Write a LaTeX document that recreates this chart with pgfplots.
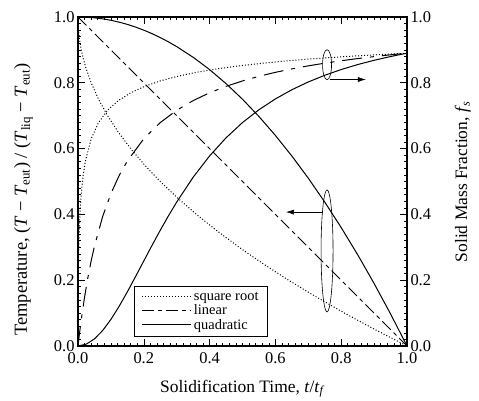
\documentclass[border=0pt]{standalone}
\usepackage{fontspec}
\setmainfont{Liberation Serif}
\usepackage{pgfplots}
\pgfplotsset{compat=1.18}
\usepackage{pgfplotstable}
\usetikzlibrary{arrows.meta}

% square-root law: t, T, fs
\pgfplotstableread{
t T fs
0 1 0
0.0001 0.99 0.0807
0.0004 0.98 0.149
0.0009 0.97 0.2077
0.0016 0.96 0.2586
0.0025 0.95 0.3032
0.005625 0.925 0.3938
0.01 0.9 0.4631
0.015625 0.875 0.5179
0.0225 0.85 0.5623
0.04 0.8 0.6299
0.0625 0.75 0.6791
0.09 0.7 0.7165
0.1225 0.65 0.7459
0.16 0.6 0.7696
0.2025 0.55 0.7892
0.25 0.5 0.8057
0.3025 0.45 0.8197
0.36 0.4 0.8318
0.4225 0.35 0.8423
0.49 0.3 0.8515
0.5625 0.25 0.8597
0.64 0.2 0.8671
0.7225 0.15 0.8736
0.81 0.1 0.8796
0.9025 0.05 0.8850
1 0 0.8899
}\sqrtdata

% linear law
\pgfplotstableread{
t T fs
0 1 0
0.005 0.995 0.0421
0.01 0.99 0.0807
0.02 0.98 0.149
0.03 0.97 0.2077
0.04 0.96 0.2586
0.05 0.95 0.3032
0.075 0.925 0.3938
0.1 0.9 0.4631
0.125 0.875 0.5179
0.15 0.85 0.5623
0.2 0.8 0.6299
0.25 0.75 0.6791
0.3 0.7 0.7165
0.35 0.65 0.7459
0.4 0.6 0.7696
0.45 0.55 0.7892
0.5 0.5 0.8057
0.55 0.45 0.8197
0.6 0.4 0.8318
0.65 0.35 0.8423
0.7 0.3 0.8515
0.75 0.25 0.8597
0.8 0.2 0.8671
0.85 0.15 0.8736
0.9 0.1 0.8796
0.95 0.05 0.8850
1 0 0.8899
}\lindata

% quadratic law
\pgfplotstableread{
t T fs
0 1 0
0.025 0.999375 0.0055
0.05 0.9975 0.0215
0.075 0.994375 0.0471
0.1 0.99 0.0807
0.125 0.984375 0.1205
0.15 0.9775 0.1646
0.175 0.969375 0.2111
0.2 0.96 0.2586
0.225 0.949375 0.3058
0.25 0.9375 0.3518
0.275 0.924375 0.3958
0.3 0.91 0.4375
0.35 0.8775 0.5129
0.4 0.84 0.5778
0.45 0.7975 0.6328
0.5 0.75 0.6791
0.55 0.6975 0.7181
0.6 0.64 0.7510
0.65 0.5775 0.7789
0.7 0.51 0.8026
0.75 0.4375 0.8228
0.8 0.36 0.8403
0.85 0.2775 0.8554
0.9 0.19 0.8684
0.95 0.0975 0.8798
1 0 0.8899
}\quaddata

\begin{document}
\begin{tikzpicture}
\pgfplotsset{
  common/.style={
    width=329bp, height=329bp, scale only axis,
    xmin=0, xmax=1, ymin=0, ymax=1,
    xtick={0,0.2,0.4,0.6,0.8,1},
    ytick={0,0.2,0.4,0.6,0.8,1},
    minor tick num=9,
    tick align=inside,
    major tick length=7pt, minor tick length=3.5pt,
    tick style={line width=0.6pt, black},
    axis line style={line width=1.1pt},
    tick label style={font=\fontsize{16.5}{18}\selectfont},
    xticklabel style={yshift=-3bp},
    label style={font=\fontsize{17.5}{20}\selectfont},
    /pgf/number format/.cd, fixed, fixed zerofill, precision=1, assume math mode=true,
  },
  sq/.style={line width=1pt, dotted},
  ln/.style={line width=1pt, dash pattern=on 20pt off 8pt on 4pt off 8pt},
  qd/.style={line width=1pt},
}
\begin{axis}[common,
  yticklabel pos=left,
  xlabel={Solidification Time, \textit{t}/\textit{t}\textsubscript{\textit{f}}},
  xlabel style={at={(axis description cs:0.5,0)}, anchor=base, yshift=-46bp},
  ylabel={Temperature, (\textit{T} − \textit{T}\textsubscript{eut}) / (\textit{T}\textsubscript{liq} − \textit{T}\textsubscript{eut})},
  ylabel style={at={(axis description cs:0,0.445)}, anchor=base, yshift=51bp, font=\fontsize{18.5}{20}\selectfont},
  legend style={at={(0.17,0.027)}, anchor=south west, draw=black, line width=0.9pt,
    font=\fontsize{14.5}{15}\selectfont, inner xsep=7pt, inner ysep=4pt, row sep=-1pt},
  legend cell align=left,
  legend image code/.code={\draw[#1] (0cm,0cm) -- (1.75cm,0cm);},
]
\coordinate (ll) at (rel axis cs:0,0);
\coordinate (ur) at (rel axis cs:1,1);
\addplot[sq] table[x=t, y=T] {\sqrtdata};
\addlegendentry{square root\hspace{4pt}}
\addplot[ln, dash pattern=on 12pt off 4pt on 4pt off 4pt] table[x=t, y=T] {\lindata};
\addlegendentry{linear}
\addplot[qd] table[x=t, y=T] {\quaddata};
\addlegendentry{quadratic}
\addplot[sq, forget plot] table[x=t, y=fs] {\sqrtdata};
\addplot[ln, forget plot] table[x=t, y=fs] {\lindata};
\addplot[qd, forget plot] table[x=t, y=fs] {\quaddata};

\draw[line width=0.6pt] (axis cs:0.757,0.855) ellipse [x radius=4.5bp, y radius=15bp];
\draw[line width=0.6pt, -{Latex[length=8pt,width=5pt]}] (axis cs:0.765,0.81) -- (axis cs:0.875,0.81);
\draw[line width=0.6pt] (axis cs:0.757,0.289) ellipse [x radius=6bp, y radius=61bp];
\draw[line width=0.6pt, -{Latex[length=8pt,width=5pt]}] (axis cs:0.745,0.407) -- (axis cs:0.632,0.407);
\end{axis}
\begin{axis}[common,
  axis x line=none,
  axis y line*=right,
  yticklabel pos=right,
  ytick pos=right,
  ylabel={Solid Mass Fraction, \textit{f}\textsubscript{\textit{s}}},
  ylabel style={at={(axis description cs:1,0.5)}, anchor=base, yshift=-60bp},
]
\end{axis}
\path ([shift={(-78bp,-54bp)}]ll) rectangle ([shift={(72bp,17bp)}]ur);
\end{tikzpicture}
\end{document}
